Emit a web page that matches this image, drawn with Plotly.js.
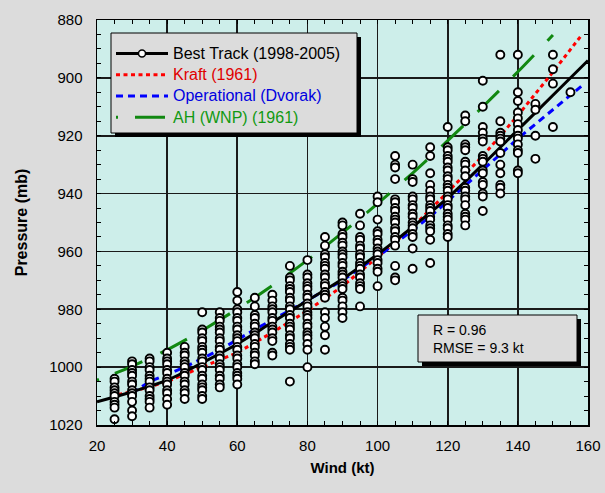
<!DOCTYPE html>
<html><head><meta charset="utf-8">
<script src="https://cdn.plot.ly/plotly-3.0.1.min.js"></script>
<style>html,body{margin:0;padding:0;background:#dcdcdc;}</style>
</head><body>
<div id="chart" style="width:605px;height:493px"></div>
<script>
// ---- observed best-track points (wind column -> pressures) ----
const windCols = [25,30,35,40,45,50,55,60,65,70,75,80,85,90,95,100,105,110,115,120,125,130,135,140,145,150,155];
const p25 = [1004,1005,1007,1008,1009,1010,1012,1013,1014,1018];
const p30 = [998,999,1001,1002,1003,1005,1006,1008,1009,1010,1012,1015,1017];
const p35 = [997,998,1000,1001,1003,1004,1005,1007,1008,1010,1011,1012,1014];
const p40 = [995,997,998,999,1001,1002,1004,1005,1006,1008,1009,1011,1013];
const p45 = [993,995,996,998,999,1000,1002,1003,1005,1006,1008,1009,1011];
const p50 = [981,987,988,990,991,993,994,995,997,998,1000,1001,1003,1004,1006,1007,1008,1010,1011];
const p55 = [981,983,984,986,987,988,990,991,993,994,996,997,999,1000,1001,1003,1004,1006,1007];
const p60 = [974,977,980,981,983,984,986,987,989,990,991,993,994,996,997,999,1000,1002,1003,1004,1006];
const p65 = [976,979,982,983,985,986,988,989,990,992,993,995,996,998,999];
const p70 = [975,977,979,980,981,983,984,986,987,988,990,991,995,996];
const p75 = [965,969,970,972,973,974,976,977,979,980,982,983,985,986,987,989,990,992,993,994,1005];
const p80 = [963,968,969,971,972,973,975,976,978,979,981,982,983,985,986,988,989,990,992,994,1000];
const p85 = [955,958,961,962,964,965,966,968,969,971,972,974,975,976,981,983,986,989,994];
const p90 = [950,951,954,955,957,958,960,961,962,964,965,967,968,969,971,972,973,976,977,979,981,983];
const p95 = [947,951,955,956,958,959,961,962,964,965,966,968,969,971,972,973,979];
const p100 = [941,943,949,953,954,956,957,959,960,961,963,964,966,967,972];
const p105 = [927,930,931,935,942,943,945,946,948,949,950,952,953,955,956,958,965,969,970];
const p110 = [930,935,936,941,942,944,945,947,948,950,951,952,954,955,959,966];
const p115 = [924,927,933,937,939,941,942,944,945,946,948,949,951,952,953,956,964];
const p120 = [917,924,925,927,928,929,931,932,934,935,937,938,939,941,942,944,945,947,948,949,951,952,954,955];
const p125 = [913,915,923,924,925,929,930,932,934,938,939,941,942,944,947,948,949,951];
const p130 = [901,910,917,919,921,922,927,928,929,932,933,936,937,940,941,946];
const p135 = [892,915,919,920,921,922,926,930,933,937,938,940];
const p140 = [892,905,908,912,914,916,918,920,921,923,925,926,932,933];
const p145 = [909,911,920,928];
const p150 = [892,897,902,917];
const p155 = [905];
const presCols = [p25,p30,p35,p40,p45,p50,p55,p60,p65,p70,p75,p80,p85,p90,p95,p100,p105,p110,p115,p120,p125,p130,p135,p140,p145,p150,p155];

// ---- curves ----
const btWind = [20,30,40,50,60,70,80,90,100,110,120,130,140,150,160];
const btPres = [1012,1008.5,1004.5,998.5,992,984.5,977,969.5,961,951.5,941.5,930,918,906,894];
const krWind = [24,30,40,50,60,70,80,90,100,110,120,130,140,150,158];
const krPres = [1010,1008.5,1005,1000,995,988,980.5,972,962,951.5,939.5,927,913,898,885.5];
const dvWind = [30,35,45,55,65,77,90,102,115,127,140,155,159];
const dvPres = [1009,1005,1000,994,987,979,970,960,948,935,921,906,902];
const ahWind = [20,30,40,50,60,70,80,90,100,110,120,130,140,150];
const ahPres = [1004.5,999.7,994,987.3,979.9,971.8,963,953.5,943.5,932.9,921.7,910,897.9,885.2];

// ---- ticks / labels ----
const xTickVals = [20,40,60,80,100,120,140,160];
const xTickText = ['20','40','60','80','100','120','140','160'];
const yTickVals = [880,900,920,940,960,980,1000,1020];
const yTickText = ['880','900','920','940','960','980','1000','1020'];
const seriesNames = ['Best Track (1998-2005)','Kraft (1961)','Operational (Dvorak)','AH (WNP) (1961)'];
const statLines = ['R = 0.96','RMSE = 9.3 kt'];

const obsX = [], obsY = [];
windCols.forEach((w,i)=>presCols[i].forEach(p=>{obsX.push(w);obsY.push(p);}));

const FONT = 'Liberation Sans, Arial, sans-serif';
const greenDash = ['2px','17px'].concat(Array(16).fill('30px,20px')).join(',');
const lg = (txt,col) => '<span style="font-size:16px;color:'+col+'">'+txt+'</span>';

const fx = px => (px-97)/491;
const fy = py => (425-py)/405;

const traces = [
  {x:krWind,y:krPres,mode:'lines',name:lg(seriesNames[1],'#e00000'),
   line:{color:'#ff0000',width:3,dash:'4px,3.5px'},legendrank:2,hoverinfo:'skip'},
  {x:dvWind,y:dvPres,mode:'lines',name:lg(seriesNames[2],'#0000e0'),
   line:{color:'#0000ff',width:3,dash:'7px,5px'},legendrank:3,hoverinfo:'skip'},
  {x:ahWind,y:ahPres,mode:'lines',name:lg(seriesNames[3],'#119911'),
   line:{color:'#118811',width:3,dash:greenDash,shape:'spline'},legendrank:4,hoverinfo:'skip'},
  {x:btWind,y:btPres,mode:'lines',showlegend:false,line:{color:'#000',width:3,shape:'spline'},hoverinfo:'skip'},
  {x:obsX,y:obsY,mode:'markers',showlegend:false,
   marker:{symbol:'circle',size:8,color:'#fff',line:{color:'#000',width:1.9}}},
  {x:[null],y:[null],mode:'lines+markers',name:lg(seriesNames[0],'#000'),legendrank:1,
   line:{color:'#000',width:3},marker:{symbol:'circle',size:7,color:'#fff',line:{color:'#000',width:1.5}}}
];

const axisCommon = {
  showline:true, linecolor:'#000', linewidth:1.5, mirror:'ticks',
  showgrid:true, gridcolor:'#1a1a1a', gridwidth:1.6, zeroline:false,
  ticks:'inside', ticklen:4, tickcolor:'#000', tickwidth:1,
  tickfont:{family:FONT,size:15,color:'#000'},
  minor:{ticks:'inside',ticklen:4,tickcolor:'#000',tickwidth:1,showgrid:false}
};

const layout = {
  width:605, height:493,
  margin:{l:97,r:17,t:20,b:68},
  paper_bgcolor:'#dcdcdc', plot_bgcolor:'#cdeeea',
  showlegend:true,
  xaxis:Object.assign({},axisCommon,{range:[20,160],tickmode:'array',tickvals:xTickVals,ticktext:xTickText,
    minor:Object.assign({},axisCommon.minor,{dtick:5}),ticklabelstandoff:6,
    title:{text:'Wind (kt)',font:{family:FONT,size:15,weight:'bold',color:'#000'},standoff:10}}),
  yaxis:Object.assign({},axisCommon,{range:[1020,880],tickmode:'array',tickvals:yTickVals,ticktext:yTickText,
    minor:Object.assign({},axisCommon.minor,{dtick:5}),ticklabelstandoff:10,
    title:{text:'Pressure (mb)',font:{family:FONT,size:16,weight:'bold',color:'#000'},standoff:17}}),
  legend:{x:fx(111),y:fy(38),xanchor:'left',yanchor:'top',bgcolor:'rgba(0,0,0,0)',borderwidth:0,
    font:{family:FONT,size:14,color:'#000'},itemwidth:52,traceorder:'normal'},
  shapes:[
    {type:'rect',xref:'paper',yref:'paper',x0:fx(115),x1:fx(361),y0:fy(137),y1:fy(37),fillcolor:'#000',line:{width:0},layer:'above'},
    {type:'rect',xref:'paper',yref:'paper',x0:fx(111),x1:fx(357),y0:fy(133),y1:fy(33),fillcolor:'#dcdcdc',line:{width:1,color:'#000'},layer:'above'},
    {type:'rect',xref:'paper',yref:'paper',x0:fx(422),x1:fx(581),y0:fy(366),y1:fy(319),fillcolor:'#000',line:{width:0},layer:'above'},
    {type:'rect',xref:'paper',yref:'paper',x0:fx(418),x1:fx(577),y0:fy(362),y1:fy(315),fillcolor:'#dcdcdc',line:{width:1,color:'#000'},layer:'above'}
  ],
  annotations:[
    {xref:'paper',yref:'paper',x:fx(431),y:fy(338.5),xanchor:'left',yanchor:'middle',align:'left',showarrow:false,
     text:statLines.join('<br>'),font:{family:FONT,size:14,color:'#000'}}
  ]
};

Plotly.newPlot('chart',traces,layout,{displayModeBar:false,staticPlot:true});
</script>
</body></html>
